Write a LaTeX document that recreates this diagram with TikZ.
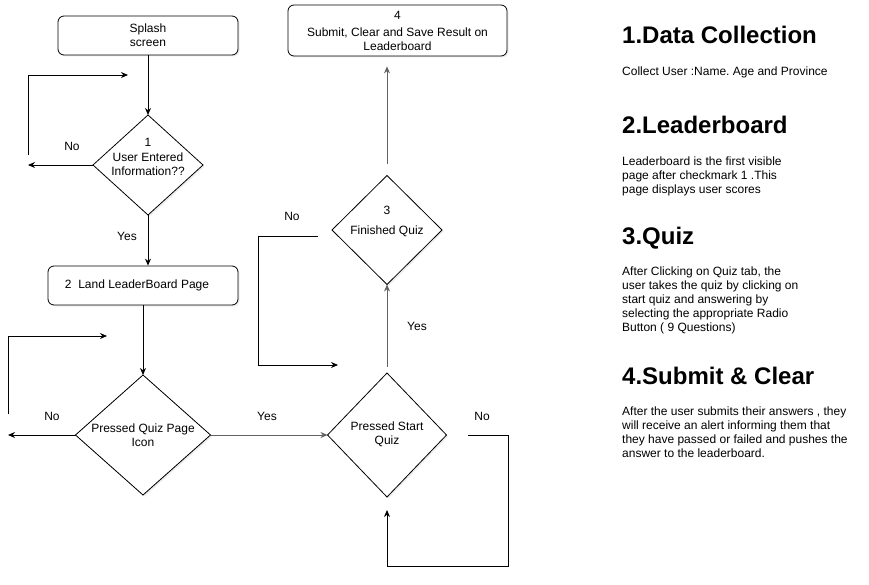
\documentclass[tikz,border=0pt]{standalone}
\usepackage{fontspec}
\setmainfont{Liberation Sans}
\usetikzlibrary{shapes.geometric,arrows.meta,shadows}
\definecolor{gristrait}{HTML}{626266}
\frenchspacing

\begin{document}
\begin{tikzpicture}[x=1pt, y=-1pt, every node/.style={font=\fontsize{12}{14}\selectfont}]
\tikzset{boite/.style={draw, rounded corners=6pt, align=center, inner sep=0pt, fill=white, line width=0.8pt,
    drop shadow={opacity=0.15, shadow xshift=1.5pt, shadow yshift=-1.5pt}},
  losange/.style={draw, diamond, fill=white, inner sep=0pt, outer sep=0pt, line width=0.8pt,
    drop shadow={opacity=0.15, shadow xshift=1.5pt, shadow yshift=-1.5pt}},
  fleche/.style={-{Stealth[length=7pt, width=6pt]}, line width=0.9pt},
  grise/.style={fleche, draw=gristrait},
  etiq/.style={inner sep=0pt},
  titre/.style={anchor=base west, inner sep=0pt, font=\fontsize{24}{28}\selectfont\bfseries},
  texte/.style={anchor=north west, inner sep=0pt, align=left}}
\useasboundingbox (0,0) rectangle (869,585);
\node[boite, minimum width=180pt, minimum height=39pt] (S) at (148,35.5) {Splash\\screen};
\node[losange, minimum width=110pt, minimum height=100pt,
  label={[align=center, inner sep=0pt, yshift=8pt]center:{1\\[1pt]User Entered\\Information??}}] (D1) at (148,165) {};
\node[boite, minimum width=190pt, minimum height=39pt] (B2) at (143,285.5) {2~~Land LeaderBoard Page\hspace*{12pt}};
\node[losange, minimum width=135pt, minimum height=120pt,
  label={[align=center, inner sep=0pt]center:{Pressed Quiz Page\\Icon}}] (DQ) at (143,435) {};
\node[losange, minimum width=119pt, minimum height=124pt,
  label={[align=center, inner sep=0pt, yshift=1pt]center:{Pressed Start\\Quiz}}] (DS) at (387,435) {};
\node[losange, minimum width=110pt, minimum height=109pt,
  label={[align=center, inner sep=0pt, yshift=9pt]center:{3\\[6pt]Finished Quiz}}] (D3) at (387,230) {};
\node[boite, minimum width=219pt, minimum height=51pt] (B4) at (397.5,30.5) {4\\[3pt]Submit, Clear and Save Result on\\Leaderboard};
\coordinate (n1) at (28,165);
\coordinate (c1a) at (28,155);
\coordinate (c1b) at (128,75);
\coordinate (n2) at (8,435);
\coordinate (c2a) at (8,414);
\coordinate (c2b) at (107,336);
\coordinate (c3a) at (318,236);
\coordinate (c3b) at (258,365);
\coordinate (c3c) at (338,365);
\coordinate (c4a) at (468,435);
\coordinate (c4b) at (508,566);
\draw[fleche] (S) -- (D1);
\draw[fleche] (D1) -- (n1);
\draw[fleche] (c1a) |- (c1b);
\draw[fleche] (D1.south) -- (D1.south |- B2.north);
\draw[fleche] (B2) -- (DQ);
\draw[fleche] (DQ) -- (n2);
\draw[fleche] (c2a) |- (c2b);
\draw[grise] (DQ) -- (DS);
\draw[grise, shorten <=6pt] (DS) -- (D3);
\draw[grise, shorten <=11pt, shorten >=10pt] (D3.north) -- (D3.north |- B4.south);
\draw[fleche] (c3a) -| (c3b) -- (c3c);
\draw[fleche] (c4a) -| (c4b) -| ([yshift=-13pt]DS.south);
\node[etiq] (no1) at (72,146) {No};
\node[etiq] (yes1) at (127,236) {Yes};
\node[etiq] (no2) at (52,416) {No};
\node[etiq] (yes2) at (267,416) {Yes};
\node[etiq] (yes3) at (417,326) {Yes};
\node[etiq] (no3) at (292,216) {No};
\node[etiq] (no4) at (482,416) {No};
\node[titre] (T1) at (622,44) {1.Data Collection};
\node[texte] (P1) at (622,67) {Collect User :Name. Age and Province};
\node[titre] (T2) at (622,134) {2.Leaderboard};
\node[texte] (P2) at (622,157) {Leaderboard is the first visible\\page after checkmark 1 .This\\page displays user scores};
\node[titre] (T3) at (622,244) {3.Quiz};
\node[texte] (P3) at (622,267) {After Clicking on Quiz tab, the\\user takes the quiz by clicking on\\start quiz and answering by\\selecting the appropriate Radio\\Button ( 9 Questions)};
\node[titre] (T4) at (622,384) {4.Submit \& Clear};
\node[texte] (P4) at (622,407) {After the user submits their answers , they\\will receive an alert informing them that\\they have passed or failed and pushes the\\answer to the leaderboard.};
\end{tikzpicture}
\end{document}
